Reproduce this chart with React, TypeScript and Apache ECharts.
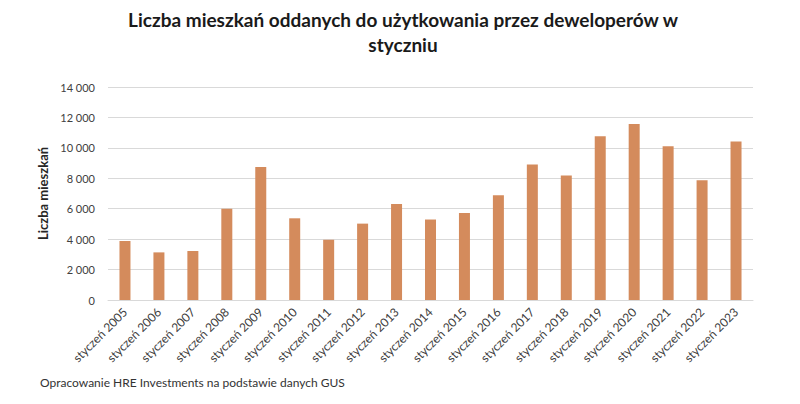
import React, { useEffect, useRef } from "react";
import * as echarts from "echarts";

const categories = [
  "styczeń 2005", "styczeń 2006", "styczeń 2007", "styczeń 2008", "styczeń 2009",
  "styczeń 2010", "styczeń 2011", "styczeń 2012", "styczeń 2013", "styczeń 2014",
  "styczeń 2015", "styczeń 2016", "styczeń 2017", "styczeń 2018", "styczeń 2019",
  "styczeń 2020", "styczeń 2021", "styczeń 2022", "styczeń 2023",
];
const values = [
  3870, 3130, 3220, 6000, 8750, 5370, 3960, 5020, 6310, 5290,
  5720, 6880, 8900, 8180, 10760, 11560, 10100, 7870, 10410,
];
const yTicks = { min: 0, max: 14000, interval: 2000 };

const FONT = "Lato, 'Open Sans', sans-serif";

export default function App() {
  const ref = useRef<HTMLDivElement>(null);
  useEffect(() => {
    if (!ref.current) return;
    const chart = echarts.init(ref.current, undefined, { renderer: "svg" });
    chart.setOption({
      animation: false,
      textStyle: { fontFamily: FONT },
      title: {
        text: "Liczba mieszkań oddanych do użytkowania przez deweloperów w\nstyczniu",
        left: 403,
        top: 7,
        padding: 0,
        textAlign: "center",
        textStyle: { fontSize: 19, fontWeight: "bold", color: "#1a1a1a", lineHeight: 25, fontFamily: FONT },
      },
      graphic: [
        {
          type: "text",
          left: 40,
          top: 376,
          style: {
            text: "Opracowanie HRE Investments na podstawie danych GUS",
            fontSize: 12,
            fill: "#333",
            fontFamily: FONT,
          },
        },
      ],
      grid: { left: 108, right: 47, top: 87, bottom: 104 },
      xAxis: {
        type: "category",
        data: categories,
        axisLine: { lineStyle: { color: "#d9d9d9" } },
        axisTick: { show: false },
        axisLabel: { rotate: 45, fontSize: 12, color: "#404040", margin: 10, interval: 0, fontFamily: FONT },
      },
      yAxis: {
        type: "value",
        min: yTicks.min,
        max: yTicks.max,
        interval: yTicks.interval,
        name: "Liczba mieszkań",
        nameLocation: "middle",
        nameGap: 56,
        nameRotate: 90,
        nameTextStyle: { fontSize: 13, fontWeight: "bold", color: "#262626", fontFamily: FONT },
        axisLine: { show: false },
        axisTick: { show: false },
        splitLine: { lineStyle: { color: "#d9d9d9" } },
        axisLabel: {
          fontSize: 11,
          color: "#404040",
          margin: 13,
          fontFamily: FONT,
          formatter: (v: number) => (v >= 1000 ? Math.floor(v / 1000) + " " + String(v % 1000).padStart(3, "0") : String(v)),
        },
      },
      series: [
        {
          type: "bar",
          data: values,
          barWidth: 11,
          itemStyle: { color: "#D48B5C" },
        },
      ],
    });
    return () => chart.dispose();
  }, []);
  return (
    <div
      ref={ref}
      style={{ position: "absolute", left: 0, top: 0, width: 800, height: 404 }}
    />
  );
}
